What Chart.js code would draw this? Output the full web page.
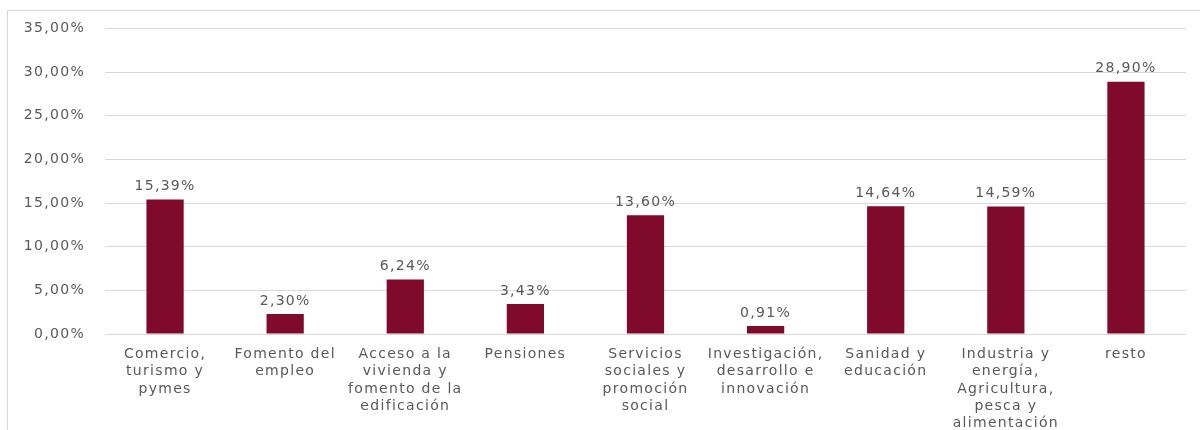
<!DOCTYPE html>
<html lang="es">

<head>
    <meta charset="utf-8">
    <title>Distribución por áreas</title>
    <script src="https://cdn.jsdelivr.net/npm/chart.js@4/dist/chart.umd.min.js"></script>
    <style>
        html, body { margin: 0; padding: 0; background: #fff; }
        #wrap { position: relative; width: 1200px; height: 430px; }
    </style>
</head>

<body>
    <div id="wrap">
        <canvas id="areas"></canvas>
    </div>
    <script>
        const categories = [
            ['Comercio,', 'turismo y', 'pymes'],
            ['Fomento del', 'empleo'],
            ['Acceso a la', 'vivienda y', 'fomento de la', 'edificación'],
            ['Pensiones'],
            ['Servicios', 'sociales y', 'promoción', 'social'],
            ['Investigación,', 'desarrollo e', 'innovación'],
            ['Sanidad y', 'educación'],
            ['Industria y', 'energía,', 'Agricultura,', 'pesca y', 'alimentación'],
            ['resto']
        ];
        const shares = [15.39, 2.30, 6.24, 3.43, 13.60, 0.91, 14.64, 14.59, 28.90];

        const textGrey = '#595959';
        const gridGrey = '#D9D9D9';
        const fmt = (v) => v.toFixed(2).replace('.', ',') + '%';

        // spread letters a bit, the original text is wide
        const spacing = {
            id: 'spacing',
            beforeUpdate(chart) { chart.ctx.letterSpacing = '1.3px'; },
            beforeDraw(chart) { chart.ctx.letterSpacing = '1.3px'; }
        };

        const frame = {
            id: 'frame',
            afterDraw(chart) {
                const ctx = chart.ctx;
                ctx.save();
                ctx.strokeStyle = gridGrey;
                ctx.lineWidth = 1;
                ctx.beginPath();
                ctx.moveTo(7.5, 430);
                ctx.lineTo(7.5, 10.5);
                ctx.lineTo(1200, 10.5);
                ctx.stroke();
                ctx.restore();
            }
        };

        const valueLabels = {
            id: 'valueLabels',
            afterDatasetsDraw(chart) {
                const ctx = chart.ctx;
                const meta = chart.getDatasetMeta(0);
                ctx.save();
                ctx.letterSpacing = '1.3px';
                ctx.font = '14px "DejaVu Sans"';
                ctx.fillStyle = textGrey;
                ctx.textAlign = 'center';
                ctx.textBaseline = 'bottom';
                meta.data.forEach((bar, i) => {
                    ctx.fillText(fmt(shares[i]), bar.x, bar.y - 6);
                });
                ctx.restore();
            }
        };

        new Chart(document.getElementById('areas'), {
            type: 'bar',
            data: {
                labels: categories,
                datasets: [{
                    data: shares,
                    backgroundColor: '#800A2B',
                    borderWidth: 0,
                    categoryPercentage: 1,
                    barPercentage: 0.31
                }]
            },
            options: {
                responsive: true,
                maintainAspectRatio: false,
                animation: false,
                layout: { padding: { top: 27, right: 14, left: 0, bottom: 0 } },
                plugins: {
                    legend: { display: false },
                    tooltip: { enabled: false }
                },
                scales: {
                    x: {
                        grid: { display: false },
                        border: { display: false },
                        ticks: {
                            color: textGrey,
                            font: { family: 'DejaVu Sans', size: 14, lineHeight: 1.23 },
                            padding: 4,
                            maxRotation: 0,
                            autoSkip: false
                        },
                        afterFit: (scale) => { scale.height = 96; }
                    },
                    y: {
                        min: 0,
                        max: 35,
                        grid: { color: gridGrey, drawTicks: false },
                        border: { display: false },
                        ticks: {
                            stepSize: 5,
                            color: textGrey,
                            font: { family: 'DejaVu Sans', size: 14 },
                            padding: 20,
                            callback: (v) => fmt(v)
                        },
                        afterFit: (scale) => { scale.width = 105; }
                    }
                }
            },
            plugins: [spacing, frame, valueLabels]
        });
    </script>
</body>

</html>
